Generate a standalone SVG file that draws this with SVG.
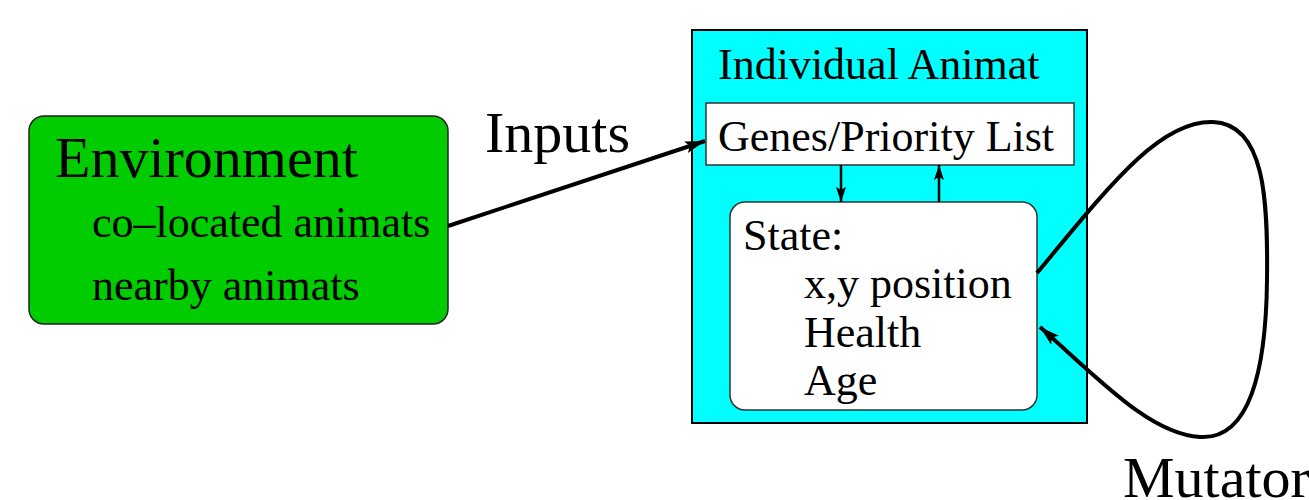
<svg xmlns="http://www.w3.org/2000/svg" width="1309" height="500" viewBox="0 0 1309 500">
<style>
text{fill:#000}
.big{font-size:58px}
.mid{font-size:44px}
.conn{fill:none;stroke:#000;stroke-width:4}
.thin{fill:none;stroke:#000;stroke-width:2.5}
</style>
<defs>
<marker id="ah" markerUnits="userSpaceOnUse" markerWidth="22" markerHeight="12" refX="20" refY="6" orient="auto">
<path d="M0,0 L20,6 L0,12 L4,6 Z" fill="#000"/>
</marker>
<marker id="ahs" markerUnits="userSpaceOnUse" markerWidth="16" markerHeight="10" refX="15" refY="5" orient="auto">
<path d="M0,0 L15,5 L0,10 L3,5 Z" fill="#000"/>
</marker>
</defs>
<rect width="1309" height="500" fill="#fff"/>
<g font-family="Liberation Serif, Times New Roman, serif">
<g id="environment">
<rect x="29" y="116" width="419" height="208" rx="15" fill="#00cc00" stroke="#222" stroke-width="1.5"/>
<text class="big" x="55" y="177">Environment</text>
<text class="mid" x="92" y="237">co–located animats</text>
<text class="mid" x="92" y="300">nearby animats</text>
</g>
<g id="animat">
<rect x="692" y="30" width="395" height="393" fill="#00ffff" stroke="#000" stroke-width="2"/>
<text class="mid" x="718" y="79">Individual Animat</text>
</g>
<g id="genes">
<rect x="706" y="103" width="368" height="62" fill="#fff" stroke="#333" stroke-width="1.5"/>
<text class="mid" x="718" y="151">Genes/Priority List</text>
</g>
<g id="state">
<rect x="730" y="202" width="307" height="208" rx="15" fill="#fff" stroke="#333" stroke-width="1.5"/>
<text class="mid" x="743" y="250">State:</text>
<text class="mid" x="804" y="298">x,y position</text>
<text class="mid" x="804" y="347">Health</text>
<text class="mid" x="804" y="395">Age</text>
</g>
<g id="labels">
<text class="big" x="485" y="152">Inputs</text>
<text class="big" x="1123" y="497">Mutator</text>
</g>
</g>
<g id="connectors">
<line class="conn" x1="448" y1="226" x2="705" y2="141" marker-end="url(#ah)"/>
<line class="thin" x1="841" y1="165" x2="841" y2="202" marker-end="url(#ahs)"/>
<line class="thin" x1="939" y1="202" x2="939" y2="165" marker-end="url(#ahs)"/>
<path class="conn" d="M1037,273 C1110,185 1160,120 1213,122 C1265,124 1268,200 1267,280 C1266,370 1250,440 1200,437 C1150,434 1100,380 1040,327" marker-end="url(#ah)"/>
</g>
</svg>
